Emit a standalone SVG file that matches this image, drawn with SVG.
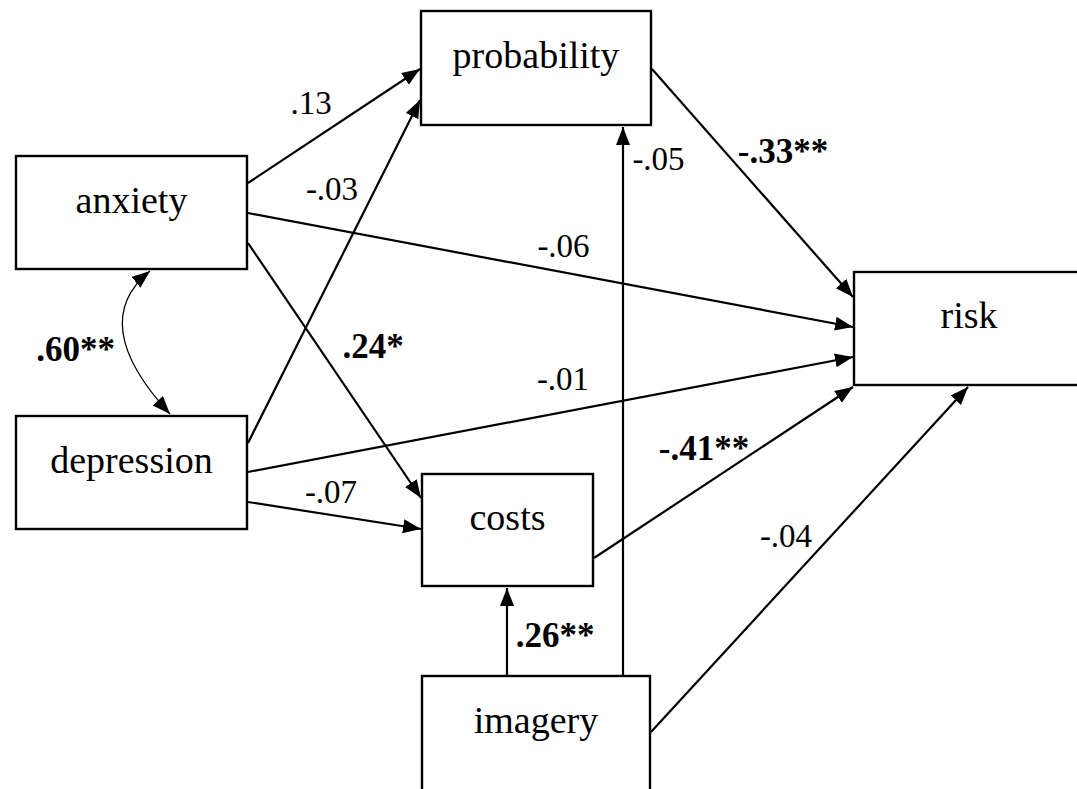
<svg xmlns="http://www.w3.org/2000/svg" width="1077" height="789" viewBox="0 0 1077 789">
<defs>
<marker id="ah" markerUnits="userSpaceOnUse" markerWidth="19" markerHeight="15" refX="18" refY="7" orient="auto-start-reverse">
<path d="M0,0 L18,7 L0,14 z" fill="#000"/>
</marker>
<style>
.box{fill:#fff;stroke:#000;stroke-width:2.4}
.nl{font-family:"Liberation Serif","Times New Roman",serif;font-size:38px;fill:#000;text-anchor:middle}
.el{font-family:"Liberation Serif","Times New Roman",serif;font-size:33px;fill:#000;text-anchor:middle}
.b{font-weight:bold;font-size:35px}
.e{fill:none;stroke:#000;stroke-width:2.2;marker-end:url(#ah)}
.cov{fill:none;stroke:#000;stroke-width:1.3;marker-start:url(#ah);marker-end:url(#ah)}
</style>
</defs>
<rect width="1077" height="789" fill="#fff"/>
<g id="connectors">
<line class="e" x1="248" y1="183" x2="420" y2="69"/>
<line class="e" x1="248" y1="443" x2="420" y2="100"/>
<line class="e" x1="248" y1="213" x2="853" y2="327"/>
<line class="e" x1="248" y1="243" x2="421" y2="498"/>
<line class="e" x1="248" y1="472" x2="853" y2="357"/>
<line class="e" x1="248" y1="502" x2="421" y2="529"/>
<line class="e" x1="652" y1="69" x2="853" y2="297"/>
<line class="e" x1="594" y1="558" x2="853" y2="387"/>
<line class="e" x1="507" y1="675" x2="507" y2="588"/>
<line class="e" x1="623" y1="675" x2="623" y2="127"/>
<line class="e" x1="651" y1="732" x2="968" y2="387"/>
<path class="cov" d="M150,271 Q86,323 170,414"/>
<text class="el" x="311" y="114">.13</text>
<text class="el" x="332" y="200">-.03</text>
<text class="el" x="563.5" y="257">-.06</text>
<text class="el b" x="373" y="358">.24*</text>
<text class="el" x="563" y="390">-.01</text>
<text class="el" x="331" y="503">-.07</text>
<text class="el" x="658.5" y="170">-.05</text>
<text class="el b" x="783" y="163">-.33**</text>
<text class="el b" x="704" y="460">-.41**</text>
<text class="el b" x="555" y="647">.26**</text>
<text class="el" x="786" y="547">-.04</text>
<text class="el b" x="75.5" y="361">.60**</text>
</g>
<g id="anxiety"><rect class="box" x="16" y="156" width="231" height="113"/><text class="nl" x="131.5" y="213">anxiety</text></g>
<g id="depression"><rect class="box" x="16" y="416" width="231" height="113"/><text class="nl" x="131.5" y="473">depression</text></g>
<g id="probability"><rect class="box" x="421" y="11" width="230" height="114"/><text class="nl" x="536" y="68">probability</text></g>
<g id="costs"><rect class="box" x="422" y="474" width="171" height="112"/><text class="nl" x="507.5" y="530">costs</text></g>
<g id="imagery"><rect class="box" x="422" y="676" width="228" height="120"/><text class="nl" x="536" y="733">imagery</text></g>
<g id="risk"><rect class="box" x="854" y="272" width="240" height="113"/><text class="nl" x="969" y="328">risk</text></g>
</svg>
